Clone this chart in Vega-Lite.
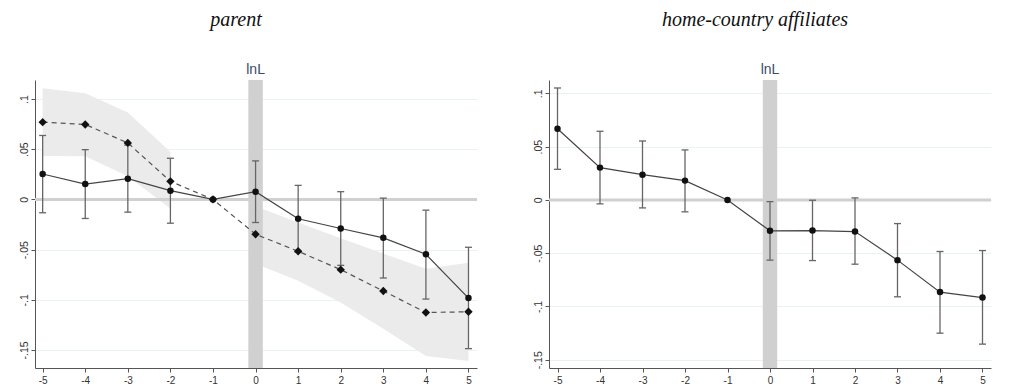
{
  "$schema": "https://vega.github.io/schema/vega-lite/v6.json",
  "background": "white",
  "padding": {"left": 19, "top": 10, "right": 5, "bottom": 5},
  "spacing": 54,
  "config": {
    "view": {"stroke": null},
    "axis": {"labelFont": "Liberation Sans", "labelColor": "#333", "domainColor": "#555", "tickColor": "#555", "gridColor": "#e9f2f2", "labelFontSize": 10.5, "tickSize": 4, "title": null},
    "title": {"font": "Liberation Serif", "fontStyle": "italic", "fontWeight": "normal", "fontSize": 20, "color": "#111"}
  },
  "datasets": {
    "parent": [
      {"t": -5, "b": 0.0253, "lo": -0.0133, "hi": 0.0637, "d": 0.077, "dlo": 0.0433, "dhi": 0.1107, "seg": "pre"},
      {"t": -4, "b": 0.0153, "lo": -0.019, "hi": 0.0496, "d": 0.0747, "dlo": 0.043, "dhi": 0.1057, "seg": "pre"},
      {"t": -3, "b": 0.0207, "lo": -0.0127, "hi": 0.0541, "d": 0.0563, "dlo": 0.023, "dhi": 0.0867, "seg": "pre"},
      {"t": -2, "b": 0.0087, "lo": -0.0237, "hi": 0.041, "d": 0.018, "dlo": -0.009, "dhi": 0.0473, "seg": "pre"},
      {"t": -1, "b": 0, "lo": null, "hi": null, "d": 0, "dlo": null, "dhi": null, "seg": "mid"},
      {"t": 0, "b": 0.0077, "lo": -0.023, "hi": 0.0384, "d": -0.0347, "dlo": -0.064, "dhi": -0.0067, "seg": "post"},
      {"t": 1, "b": -0.0193, "lo": -0.0526, "hi": 0.014, "d": -0.0517, "dlo": -0.081, "dhi": -0.023, "seg": "post"},
      {"t": 2, "b": -0.029, "lo": -0.0657, "hi": 0.0077, "d": -0.07, "dlo": -0.1027, "dhi": -0.0387, "seg": "post"},
      {"t": 3, "b": -0.0383, "lo": -0.0783, "hi": 0.0013, "d": -0.0913, "dlo": -0.129, "dhi": -0.054, "seg": "post"},
      {"t": 4, "b": -0.0547, "lo": -0.0993, "hi": -0.0107, "d": -0.1127, "dlo": -0.156, "dhi": -0.069, "seg": "post"},
      {"t": 5, "b": -0.0983, "lo": -0.1487, "hi": -0.0477, "d": -0.112, "dlo": -0.161, "dhi": -0.063, "seg": "post"}
    ],
    "home": [
      {"t": -5, "b": 0.0668, "lo": 0.0287, "hi": 0.105},
      {"t": -4, "b": 0.0303, "lo": -0.0037, "hi": 0.0644},
      {"t": -3, "b": 0.0237, "lo": -0.0075, "hi": 0.0553},
      {"t": -2, "b": 0.0181, "lo": -0.0112, "hi": 0.0469},
      {"t": -1, "b": 0, "lo": null, "hi": null},
      {"t": 0, "b": -0.029, "lo": -0.0565, "hi": -0.0016},
      {"t": 1, "b": -0.0288, "lo": -0.0569, "hi": -0.0003},
      {"t": 2, "b": -0.0297, "lo": -0.0603, "hi": 0.0019},
      {"t": 3, "b": -0.0565, "lo": -0.0909, "hi": -0.0222},
      {"t": 4, "b": -0.0865, "lo": -0.125, "hi": -0.0484},
      {"t": 5, "b": -0.0916, "lo": -0.1353, "hi": -0.0475}
    ]
  },
  "hconcat": [
    {
      "width": 442,
      "height": 288,
      "title": {"text": "parent", "dx": -20, "offset": 33},
      "data": {"name": "parent"},
      "layer": [
        {
          "mark": {"type": "area", "color": "#ebebeb", "opacity": 1},
          "encoding": {
            "x": {"field": "t", "type": "quantitative", "scale": {"domain": [-5.18, 5.2], "nice": false, "zero": false},
              "axis": {"values": [-5, -4, -3, -2, -1, 0, 1, 2, 3, 4, 5], "labelExpr": "(datum.value < 0 ? '-' : '') + abs(datum.value)", "grid": false, "labelPadding": 3, "labelFontSize": 10}},
            "y": {"field": "dlo", "type": "quantitative", "scale": {"domain": [-0.168, 0.119], "nice": false, "zero": false},
              "axis": {"values": [-0.15, -0.1, -0.05, 0, 0.05, 0.1], "labelExpr": "(datum.value < 0 ? '-' : '') + replace(format(abs(datum.value), '.2~f'), '0.', '.')", "labelAngle": 270, "grid": true, "labelPadding": 2}},
            "y2": {"field": "dhi"},
            "detail": {"field": "seg"}
          }
        },
        {
          "data": {"values": [{}]},
          "mark": {"type": "rect", "color": "#d0d0d0"},
          "encoding": {
            "x": {"datum": -0.17, "type": "quantitative"}, "x2": {"datum": 0.17},
            "y": {"datum": 0.119, "type": "quantitative"}, "y2": {"datum": -0.168}
          }
        },
        {
          "data": {"values": [{}]},
          "mark": {"type": "rule", "color": "#d0d0d0", "strokeWidth": 3},
          "encoding": {"y": {"datum": 0, "type": "quantitative"}}
        },
        {
          "mark": {"type": "rule", "color": "#666", "strokeWidth": 1.3},
          "encoding": {"x": {"field": "t", "type": "quantitative"}, "y": {"field": "lo", "type": "quantitative"}, "y2": {"field": "hi"}}
        },
        {
          "mark": {"type": "tick", "orient": "horizontal", "color": "#666", "size": 7, "thickness": 1.3, "opacity": 1},
          "encoding": {"x": {"field": "t", "type": "quantitative"}, "y": {"field": "lo", "type": "quantitative"}}
        },
        {
          "mark": {"type": "tick", "orient": "horizontal", "color": "#666", "size": 7, "thickness": 1.3, "opacity": 1},
          "encoding": {"x": {"field": "t", "type": "quantitative"}, "y": {"field": "hi", "type": "quantitative"}}
        },
        {
          "mark": {"type": "line", "color": "#555", "strokeDash": [5, 4], "strokeWidth": 1.2},
          "encoding": {"x": {"field": "t", "type": "quantitative"}, "y": {"field": "d", "type": "quantitative"}}
        },
        {
          "mark": {"type": "point", "shape": "diamond", "filled": true, "color": "#111", "size": 70, "opacity": 1},
          "encoding": {"x": {"field": "t", "type": "quantitative"}, "y": {"field": "d", "type": "quantitative"}}
        },
        {
          "mark": {"type": "line", "color": "#444", "strokeWidth": 1.2},
          "encoding": {"x": {"field": "t", "type": "quantitative"}, "y": {"field": "b", "type": "quantitative"}}
        },
        {
          "mark": {"type": "circle", "color": "#111", "size": 42, "opacity": 1},
          "encoding": {"x": {"field": "t", "type": "quantitative"}, "y": {"field": "b", "type": "quantitative"}}
        },
        {
          "data": {"values": [{}]},
          "mark": {"type": "text", "text": "lnL", "color": "#3b4a6b", "fontSize": 14, "font": "Liberation Sans", "baseline": "alphabetic", "dy": -6},
          "encoding": {"x": {"datum": 0, "type": "quantitative"}, "y": {"datum": 0.119, "type": "quantitative"}}
        }
      ]
    },
    {
      "width": 442,
      "height": 288,
      "title": {"text": "home-country affiliates", "dx": -15, "offset": 33},
      "data": {"name": "home"},
      "layer": [
        {
          "data": {"values": [{}]},
          "mark": {"type": "rect", "color": "#d0d0d0"},
          "encoding": {
            "x": {"datum": -0.17, "type": "quantitative", "scale": {"domain": [-5.2, 5.2], "nice": false, "zero": false},
              "axis": {"values": [-5, -4, -3, -2, -1, 0, 1, 2, 3, 4, 5], "labelExpr": "(datum.value < 0 ? '-' : '') + abs(datum.value)", "grid": false, "labelPadding": 3, "labelFontSize": 10}},
            "x2": {"datum": 0.17},
            "y": {"datum": 0.1125, "type": "quantitative", "scale": {"domain": [-0.1577, 0.1125], "nice": false, "zero": false},
              "axis": {"values": [-0.15, -0.1, -0.05, 0, 0.05, 0.1], "labelExpr": "(datum.value < 0 ? '-' : '') + replace(format(abs(datum.value), '.2~f'), '0.', '.')", "labelAngle": 270, "grid": true, "labelPadding": 2}},
            "y2": {"datum": -0.1577}
          }
        },
        {
          "data": {"values": [{}]},
          "mark": {"type": "rule", "color": "#d0d0d0", "strokeWidth": 3},
          "encoding": {"y": {"datum": 0, "type": "quantitative"}}
        },
        {
          "mark": {"type": "rule", "color": "#666", "strokeWidth": 1.3},
          "encoding": {"x": {"field": "t", "type": "quantitative"}, "y": {"field": "lo", "type": "quantitative"}, "y2": {"field": "hi"}}
        },
        {
          "mark": {"type": "tick", "orient": "horizontal", "color": "#666", "size": 7, "thickness": 1.3, "opacity": 1},
          "encoding": {"x": {"field": "t", "type": "quantitative"}, "y": {"field": "lo", "type": "quantitative"}}
        },
        {
          "mark": {"type": "tick", "orient": "horizontal", "color": "#666", "size": 7, "thickness": 1.3, "opacity": 1},
          "encoding": {"x": {"field": "t", "type": "quantitative"}, "y": {"field": "hi", "type": "quantitative"}}
        },
        {
          "mark": {"type": "line", "color": "#444", "strokeWidth": 1.2},
          "encoding": {"x": {"field": "t", "type": "quantitative"}, "y": {"field": "b", "type": "quantitative"}}
        },
        {
          "mark": {"type": "circle", "color": "#111", "size": 42, "opacity": 1},
          "encoding": {"x": {"field": "t", "type": "quantitative"}, "y": {"field": "b", "type": "quantitative"}}
        },
        {
          "data": {"values": [{}]},
          "mark": {"type": "text", "text": "lnL", "color": "#3b4a6b", "fontSize": 14, "font": "Liberation Sans", "baseline": "alphabetic", "dy": -6},
          "encoding": {"x": {"datum": 0, "type": "quantitative"}, "y": {"datum": 0.1125, "type": "quantitative"}}
        }
      ]
    }
  ]
}
